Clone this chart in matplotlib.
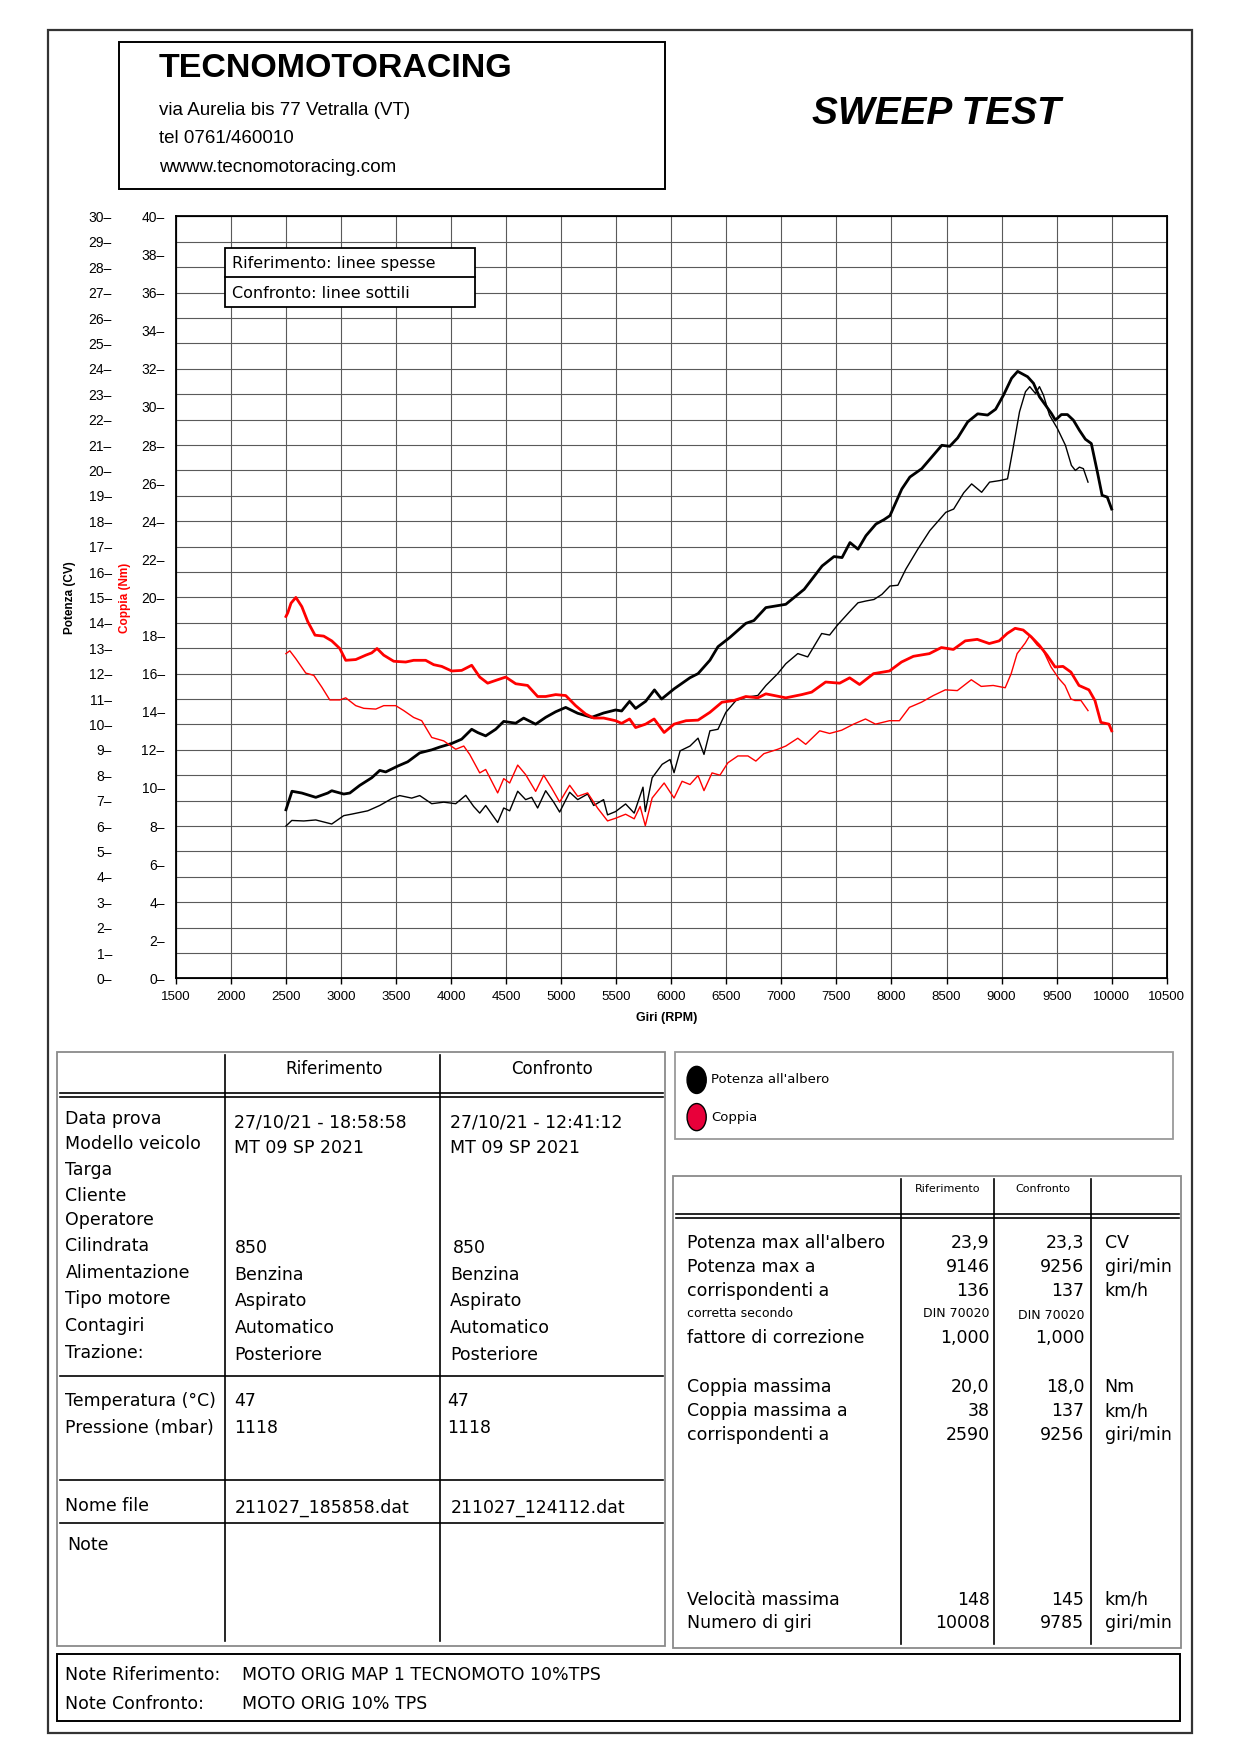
import matplotlib
matplotlib.use("Agg")
import matplotlib.pyplot as plt
from matplotlib.lines import Line2D
from matplotlib.patches import Rectangle, Circle

# --- data ---
rpm_pot_rif = [2500, 2555, 2644, 2771, 2880, 2916, 3025, 3080, 3170, 3279, 3352, 3406, 3515,
               3606, 3715, 3824, 3897, 4005, 4096, 4187, 4242, 4314, 4405, 4478, 4587, 4659,
               4768, 4859, 4950, 5041, 5150, 5276, 5385, 5494, 5549, 5621, 5676, 5767, 5847,
               5912, 6025, 6170, 6243, 6351, 6424, 6533, 6677, 6750, 6859, 7040, 7207, 7370,
               7478, 7551, 7623, 7696, 7768, 7859, 7931, 7986, 8094, 8167, 8275, 8384, 8457,
               8529, 8601, 8692, 8783, 8873, 8946, 9018, 9091, 9146, 9236, 9290, 9344, 9399,
               9453, 9489, 9543, 9598, 9652, 9707, 9761, 9815, 9870, 9913, 9960, 10000]
pot_rif = [6.64, 7.37, 7.3, 7.13, 7.3, 7.39, 7.26, 7.3, 7.6, 7.9, 8.19, 8.13, 8.36,
           8.53, 8.88, 9.0, 9.11, 9.25, 9.42, 9.81, 9.68, 9.55, 9.81, 10.12, 10.05, 10.25,
           10.01, 10.28, 10.5, 10.67, 10.44, 10.28, 10.45, 10.57, 10.53, 10.91, 10.63, 10.91, 11.36,
           11.0, 11.4, 11.84, 12.0, 12.53, 13.06, 13.43, 13.98, 14.09, 14.6, 14.73, 15.32, 16.24,
           16.61, 16.57, 17.16, 16.9, 17.43, 17.89, 18.06, 18.22, 19.27, 19.74, 20.07, 20.62, 20.99,
           20.95, 21.28, 21.91, 22.23, 22.18, 22.41, 22.97, 23.63, 23.9, 23.69, 23.43, 22.9, 22.57,
           22.24, 21.98, 22.2, 22.2, 21.98, 21.58, 21.23, 21.06, 19.94, 19.02, 18.95, 18.48]

rpm_pot_conf = [2500, 2553, 2662, 2771, 2916, 3025, 3098, 3243, 3352, 3461, 3533, 3642, 3715,
                3824, 3933, 4042, 4133, 4205, 4260, 4314, 4423, 4478, 4532, 4605, 4677, 4732,
                4786, 4859, 4932, 4986, 5077, 5150, 5240, 5295, 5385, 5421, 5494, 5585, 5663,
                5743, 5764, 5826, 5917, 5989, 6025, 6080, 6170, 6243, 6297, 6351, 6424, 6496,
                6587, 6677, 6786, 6859, 6967, 7040, 7149, 7239, 7366, 7438, 7511, 7620, 7696,
                7768, 7841, 7913, 7986, 8058, 8130, 8239, 8348, 8493, 8565, 8656, 8728, 8819,
                8891, 8982, 9054, 9101, 9163, 9217, 9256, 9308, 9344, 9380, 9435, 9507, 9580,
                9634, 9670, 9707, 9743, 9785]
pot_conf = [6.0, 6.22, 6.2, 6.24, 6.08, 6.41, 6.47, 6.6, 6.81, 7.08, 7.2, 7.1, 7.2,
            6.88, 6.94, 6.88, 7.21, 6.77, 6.51, 6.81, 6.14, 6.71, 6.6, 7.37, 7.04, 7.13,
            6.71, 7.39, 6.94, 6.55, 7.33, 7.04, 7.26, 6.81, 7.04, 6.44, 6.57, 6.87, 6.51,
            7.53, 6.57, 7.9, 8.43, 8.62, 8.1, 8.96, 9.15, 9.46, 8.82, 9.75, 9.81, 10.48,
            10.94, 11.07, 11.14, 11.53, 12.0, 12.39, 12.79, 12.66, 13.58, 13.52, 13.92, 14.44, 14.79,
            14.86, 14.92, 15.12, 15.45, 15.48, 16.11, 16.9, 17.63, 18.35, 18.48, 19.12, 19.47, 19.14,
            19.54, 19.6, 19.67, 20.79, 22.31, 23.1, 23.3, 23.03, 23.3, 22.97, 22.18, 21.65, 20.99,
            20.2, 20.0, 20.13, 20.07, 19.54]

rpm_cop_rif = [2500, 2517, 2546, 2590, 2644, 2698, 2764, 2843, 2916, 2989, 3043, 3134, 3225,
               3279, 3327, 3388, 3479, 3588, 3660, 3769, 3842, 3915, 4005, 4096, 4187, 4260,
               4332, 4423, 4496, 4587, 4695, 4786, 4859, 4950, 5041, 5131, 5222, 5295, 5385,
               5494, 5549, 5621, 5676, 5767, 5844, 5935, 6025, 6134, 6243, 6351, 6460, 6569,
               6677, 6786, 6859, 7040, 7185, 7275, 7402, 7529, 7620, 7710, 7837, 7982, 8091,
               8199, 8344, 8453, 8562, 8670, 8779, 8888, 8978, 9051, 9123, 9196, 9268, 9341,
               9413, 9486, 9558, 9630, 9703, 9793, 9848, 9902, 9975, 10000]
cop_rif = [19.0, 19.2, 19.7, 20.0, 19.52, 18.73, 18.02, 17.97, 17.72, 17.32, 16.7, 16.74, 16.97,
           17.09, 17.32, 16.97, 16.65, 16.61, 16.7, 16.7, 16.47, 16.38, 16.14, 16.17, 16.44, 15.82,
           15.5, 15.68, 15.82, 15.47, 15.38, 14.8, 14.8, 14.9, 14.85, 14.32, 13.88, 13.67, 13.67,
           13.53, 13.39, 13.62, 13.17, 13.35, 13.62, 12.91, 13.35, 13.53, 13.56, 13.97, 14.5, 14.59,
           14.8, 14.73, 14.94, 14.73, 14.9, 15.03, 15.56, 15.5, 15.78, 15.43, 16.0, 16.14, 16.61,
           16.91, 17.05, 17.37, 17.27, 17.72, 17.8, 17.58, 17.72, 18.11, 18.38, 18.29, 17.94, 17.5,
           16.97, 16.35, 16.38, 16.08, 15.38, 15.15, 14.59, 13.44, 13.35, 13.0]

rpm_cop_conf = [2500, 2535, 2589, 2680, 2753, 2826, 2898, 2989, 3043, 3134, 3207, 3316, 3388,
                3497, 3570, 3660, 3733, 3824, 3933, 4042, 4115, 4169, 4260, 4314, 4369, 4423,
                4478, 4532, 4605, 4677, 4768, 4841, 4913, 4986, 5077, 5150, 5240, 5331, 5421,
                5494, 5585, 5663, 5717, 5764, 5826, 5935, 6025, 6098, 6170, 6243, 6297, 6370,
                6442, 6514, 6605, 6696, 6768, 6841, 6967, 7040, 7149, 7221, 7348, 7438, 7547,
                7656, 7764, 7855, 7982, 8072, 8163, 8272, 8380, 8489, 8598, 8725, 8815, 8924,
                9033, 9087, 9141, 9214, 9256, 9323, 9377, 9449, 9522, 9576, 9630, 9667, 9721, 9785]
cop_conf = [17.05, 17.2, 16.79, 16.03, 15.91, 15.29, 14.62, 14.62, 14.73, 14.32, 14.18, 14.14, 14.32,
            14.32, 14.06, 13.7, 13.53, 12.65, 12.47, 12.03, 12.2, 11.76, 10.79, 10.97, 10.35, 9.74,
            10.49, 10.26, 11.2, 10.7, 9.82, 10.67, 10.0, 9.26, 10.14, 9.56, 9.74, 8.94, 8.27,
            8.41, 8.62, 8.38, 9.03, 8.02, 9.47, 10.26, 9.47, 10.35, 10.18, 10.65, 9.86, 10.79,
            10.67, 11.32, 11.68, 11.68, 11.41, 11.8, 12.03, 12.2, 12.61, 12.29, 13.0, 12.86, 13.03,
            13.35, 13.62, 13.35, 13.53, 13.53, 14.23, 14.5, 14.85, 15.15, 15.11, 15.68, 15.33, 15.38,
            15.26, 16.0, 17.05, 17.6, 18.0, 17.5, 17.23, 16.35, 15.73, 15.38, 14.67, 14.59, 14.59, 14.06]

cv_ticks = list(range(0, 31))
nm_ticks = list(range(0, 41, 2))
rpm_ticks = list(range(1500, 10501, 500))

info_labels = ["Data prova", "Modello veicolo", "Targa", "Cliente", "Operatore", "Cilindrata",
               "Alimentazione", "Tipo motore", "Contagiri", "Trazione:"]
info_rif = ["27/10/21 - 18:58:58", "MT 09 SP 2021", "", "", "", "850", "Benzina", "Aspirato",
            "Automatico", "Posteriore"]
info_conf = ["27/10/21 - 12:41:12", "MT 09 SP 2021", "", "", "", "850", "Benzina", "Aspirato",
             "Automatico", "Posteriore"]

res_labels = ["Potenza max all'albero", "Potenza max a", "corrispondenti a"]
res_rif = ["23,9", "9146", "136"]
res_conf = ["23,3", "9256", "137"]
res_units = ["CV", "giri/min", "km/h"]
cop_labels = ["Coppia massima", "Coppia massima a", "corrispondenti a"]
cop_res_rif = ["20,0", "38", "2590"]
cop_res_conf = ["18,0", "137", "9256"]
cop_units = ["Nm", "km/h", "giri/min"]
vel_labels = ["Velocità massima", "Numero di giri"]
vel_rif = ["148", "10008"]
vel_conf = ["145", "9785"]
vel_units = ["km/h", "giri/min"]

# page in a 1100 x 1556 layout grid
W, H = 1100.0, 1556.0
fig = plt.figure(figsize=(12.4, 17.54), dpi=100)
ARIAL = ["Liberation Sans", "DejaVu Sans"]
TAB = ["DejaVu Sans"]


def fx(x):
    return x / W


def fy(y):
    return 1 - y / H


def txt(x, y, s, size=12, family=TAB, **kw):
    kw.setdefault("va", "center")
    fig.text(fx(x), fy(y), s, fontsize=size, family=family, **kw)


def hline(x0, x1, y, lw=1.2, color="black"):
    fig.add_artist(Line2D([fx(x0), fx(x1)], [fy(y), fy(y)], lw=lw, color=color))


def vline(x, y0, y1, lw=1.2, color="black"):
    fig.add_artist(Line2D([fx(x), fx(x)], [fy(y0), fy(y1)], lw=lw, color=color))


def box(x0, y0, x1, y1, lw=1.2, color="black"):
    fig.add_artist(Rectangle((fx(x0), fy(y1)), fx(x1) - fx(x0), fy(y0) - fy(y1),
                             fill=False, lw=lw, edgecolor=color))


# outer frame and header
box(43, 27, 1057, 1537, lw=1.6, color="#333333")
box(106, 37, 590, 168, lw=1.4)
txt(141, 61, "TECNOMOTORACING", size=24.5, family=ARIAL, weight="bold")
txt(141, 98, "via Aurelia bis 77 Vetralla (VT)", size=13.5, family=ARIAL)
txt(141, 123, "tel 0761/460010", size=13.5, family=ARIAL)
txt(141, 149, "wwww.tecnomotoracing.com", size=13.5, family=ARIAL)
txt(831, 101, "SWEEP TEST", size=28, family=ARIAL, weight="bold", style="italic", ha="center")

# chart
ax = fig.add_axes([fx(156), fy(868), fx(1035) - fx(156), fy(192) - fy(868)])
ax.set_xlim(1500, 10500)
ax.set_ylim(0, 30)
ax.set_xticks(rpm_ticks)
ax.set_xticklabels([str(v) for v in rpm_ticks], fontsize=9.5, family=ARIAL)
ax.set_yticks(cv_ticks)
ax.set_yticklabels([f"{v}\u2013" for v in cv_ticks], fontsize=10, family=ARIAL)
ax.tick_params(axis="y", length=0, pad=46)
ax.tick_params(axis="x", length=4, pad=5, width=1)
ax.grid(True, color="#5a5a5a", lw=0.8)
ax.set_axisbelow(True)
for s in ax.spines.values():
    s.set_linewidth(1.3)
ax.plot(rpm_pot_rif, pot_rif, color="black", lw=2.0, zorder=3)
ax.plot(rpm_pot_conf, pot_conf, color="black", lw=1.0, zorder=3)

axt = ax.twinx()
axt.set_ylim(0, 40)
axt.yaxis.tick_left()
axt.set_yticks(nm_ticks)
axt.set_yticklabels([f"{v}\u2013" for v in nm_ticks], fontsize=10, family=ARIAL)
axt.tick_params(axis="y", length=0, pad=8)
axt.plot(rpm_cop_rif, cop_rif, color="#ff0000", lw=2.0)
axt.plot(rpm_cop_conf, cop_conf, color="#ff0000", lw=1.0)

# axis titles
txt(62, 530, "Potenza (CV)", size=8.5, family=ARIAL, weight="bold", rotation=90, ha="center")
txt(111, 530, "Coppia (Nm)", size=8.5, family=ARIAL, weight="bold", rotation=90, ha="center",
    color="#ff0000")
txt(591, 903, "Giri (RPM)", size=9, family=ARIAL, weight="bold", ha="center")

# line-style key inside chart
fig.add_artist(Rectangle((fx(200), fy(272)), fx(421) - fx(200), fy(220) - fy(272),
                         facecolor="white", edgecolor="black", lw=1.3))
hline(200, 421, 246, lw=1.3)
txt(206, 234, "Riferimento: linee spesse", size=11.5)
txt(206, 260, "Confronto: linee sottili", size=11.5)

# left data table
box(51, 933, 590, 1460, lw=1.3, color="#8a8a8a")
vline(200, 936, 1456)
vline(390, 936, 1456)
hline(53, 588, 970, lw=1.2)
hline(53, 588, 973.5, lw=1.2)
hline(53, 588, 1221)
hline(53, 588, 1313)
hline(53, 588, 1351)
txt(296, 948, "Riferimento", size=12, ha="center")
txt(490, 948, "Confronto", size=12, ha="center")
rows_y = [993, 1015, 1038, 1061, 1082, 1105, 1129, 1152, 1176, 1200]
for i, lab in enumerate(info_labels):
    txt(58, rows_y[i], lab, size=12.5)
    dy = 3 if i < 2 else 2
    txt(208, rows_y[i] + dy, info_rif[i], size=12.5)
    txt(399 if i != 5 else 402, rows_y[i] + dy, info_conf[i], size=12.5)
txt(58, 1243, "Temperatura (°C)", size=12.5)
txt(58, 1267, "Pressione (mbar)", size=12.5)
txt(208, 1243, "47", size=12.5)
txt(208, 1267, "1118", size=12.5)
txt(397, 1243, "47", size=12.5)
txt(397, 1267, "1118", size=12.5)
txt(58, 1336, "Nome file", size=12.5)
txt(208, 1338, "211027_185858.dat", size=12.5)
txt(400, 1338, "211027_124112.dat", size=12.5)
txt(60, 1371, "Note", size=12.5)

# colour key
box(599, 933, 1041, 1010, lw=1.3, color="#9a9a9a")
fig.add_artist(Circle((fx(618), fy(958)), 8.5 / W, transform=fig.transFigure,
                      facecolor="black", edgecolor="black", lw=1))
fig.add_artist(Circle((fx(618), fy(991)), 8.5 / W, transform=fig.transFigure,
                      facecolor="#e8003a", edgecolor="black", lw=1))
txt(631, 958, "Potenza all'albero", size=9.5)
txt(631, 991, "Coppia", size=9.5)

# results table
box(597, 1043, 1048, 1462, lw=1.3, color="#8a8a8a")
for xv in (799, 882, 968):
    vline(xv, 1046, 1458)
hline(600, 1046, 1077)
hline(600, 1046, 1080.5)
txt(841, 1055, "Riferimento", size=8, ha="center")
txt(925, 1055, "Confronto", size=8, ha="center")


def result_rows(labels, rif, conf, units, ys):
    for lab, a, b, u, yy in zip(labels, rif, conf, units, ys):
        txt(609, yy, lab, size=12.5)
        txt(878, yy, a, size=12.5, ha="right")
        txt(962, yy, b, size=12.5, ha="right")
        txt(980, yy, u, size=12.5)


result_rows(res_labels, res_rif, res_conf, res_units, [1103, 1124, 1145])
txt(609, 1165, "corretta secondo", size=9)
txt(878, 1165, "DIN 70020", size=9, ha="right")
txt(962, 1167, "DIN 70020", size=9, ha="right")
txt(609, 1187, "fattore di correzione", size=12.5)
txt(878, 1187, "1,000", size=12.5, ha="right")
txt(962, 1187, "1,000", size=12.5, ha="right")
result_rows(cop_labels, cop_res_rif, cop_res_conf, cop_units, [1230, 1252, 1273])
result_rows(vel_labels, vel_rif, vel_conf, vel_units, [1419, 1440])

# notes
box(51, 1467, 1047, 1527, lw=1.4)
txt(58, 1486, "Note Riferimento:", size=12.5)
txt(215, 1486, "MOTO ORIG MAP 1 TECNOMOTO 10%TPS", size=12.5)
txt(58, 1512, "Note Confronto:", size=12.5)
txt(215, 1512, "MOTO ORIG 10% TPS", size=12.5)

fig.savefig("out.png", dpi=100)
